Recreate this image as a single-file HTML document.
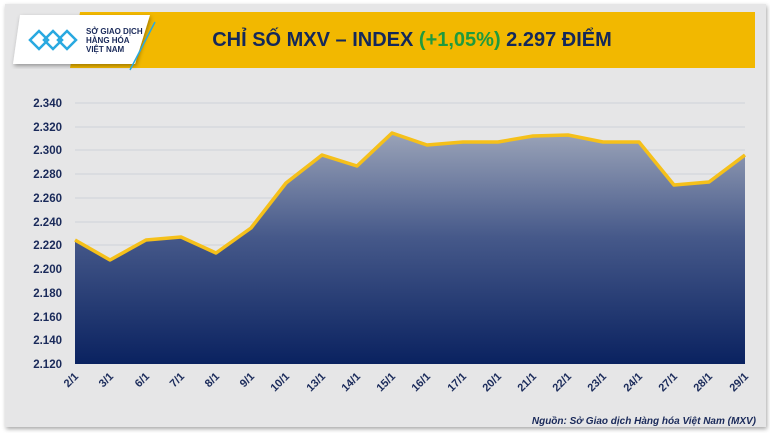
<!DOCTYPE html>
<html><head><meta charset="utf-8"><style>
body{margin:0;width:770px;height:433px;background:#fff;overflow:hidden;font-family:"Liberation Sans",sans-serif}
</style></head><body>
<svg width="770" height="433" xmlns="http://www.w3.org/2000/svg">
<defs>
<linearGradient id="g" x1="0" y1="0" x2="0" y2="1">
<stop offset="0" stop-color="#9aa3b8"/><stop offset="0.45" stop-color="#46598a"/><stop offset="1" stop-color="#0a2260"/></linearGradient>
<filter id="sh"><feDropShadow dx="1" dy="2" stdDeviation="2" flood-opacity="0.35"/></filter>
</defs>
<rect x="5" y="4" width="761" height="423" fill="#e6e6e7" filter="url(#sh)"/>
<polygon points="80,12 755,12 755,68 70,68" fill="#f2b800"/>
<polygon points="20,15 150,15 135,64 13,64" fill="#fff" filter="url(#sh)"/>
<line x1="155" y1="22" x2="130" y2="70" stroke="#29a9e0" stroke-width="1.5"/>
<g fill="none" stroke="#29a9e0" stroke-width="2.5">
<path d="M30,40 l9,-9 l9,9 l-9,9z"/><path d="M44,40 l9,-9 l9,9 l-9,9z"/><path d="M58,40 l9,-9 l9,9 l-9,9z"/>
</g>
<text x="86" y="34" font-size="8" font-weight="bold" fill="#1a2a5a">SỞ GIAO DỊCH</text>
<text x="86" y="43" font-size="8" font-weight="bold" fill="#1a2a5a">HÀNG HÓA</text>
<text x="86" y="52" font-size="8" font-weight="bold" fill="#1a2a5a">VIỆT NAM</text>
<text x="412" y="46" font-size="20" font-weight="bold" text-anchor="middle" fill="#14285a">CHỈ SỐ MXV – INDEX <tspan fill="#1f9a3e">(+1,05%)</tspan> 2.297 ĐIỂM</text>
<g stroke="#cfd3da" stroke-width="1">
<line x1="75" y1="103" x2="745" y2="103"/><line x1="75" y1="127" x2="745" y2="127"/><line x1="75" y1="150" x2="745" y2="150"/><line x1="75" y1="174" x2="745" y2="174"/><line x1="75" y1="198" x2="745" y2="198"/><line x1="75" y1="222" x2="745" y2="222"/><line x1="75" y1="245" x2="745" y2="245"/><line x1="75" y1="269" x2="745" y2="269"/><line x1="75" y1="293" x2="745" y2="293"/><line x1="75" y1="317" x2="745" y2="317"/><line x1="75" y1="340" x2="745" y2="340"/>
</g>
<g font-size="11.5" font-weight="bold" fill="#1a2a5a" text-anchor="end">
<text x="62" y="107">2.340</text><text x="62" y="131">2.320</text><text x="62" y="154">2.300</text><text x="62" y="178">2.280</text><text x="62" y="202">2.260</text><text x="62" y="226">2.240</text><text x="62" y="249">2.220</text><text x="62" y="273">2.200</text><text x="62" y="297">2.180</text><text x="62" y="321">2.160</text><text x="62" y="344">2.140</text><text x="62" y="368">2.120</text>
</g>
<polygon fill="url(#g)" points="75,364 75,240 110,260 146,240 181,237 216,253 251,228 286,183 322,155 357,166 392,133 427,145 463,142 498,142 533,136 568,135 603,142 639,142 674,185 709,182 745,155 745,364"/>
<polyline fill="none" stroke="#f5c01a" stroke-width="3.5" stroke-linejoin="round" points="75,240 110,260 146,240 181,237 216,253 251,228 286,183 322,155 357,166 392,133 427,145 463,142 498,142 533,136 568,135 603,142 639,142 674,185 709,182 745,155"/>
<g font-size="11" font-weight="bold" fill="#1a2a5a" text-anchor="end">
<text transform="translate(79,377) rotate(-45)">2/1</text><text transform="translate(114,377) rotate(-45)">3/1</text><text transform="translate(150,377) rotate(-45)">6/1</text><text transform="translate(185,377) rotate(-45)">7/1</text><text transform="translate(220,377) rotate(-45)">8/1</text><text transform="translate(255,377) rotate(-45)">9/1</text><text transform="translate(290,377) rotate(-45)">10/1</text><text transform="translate(326,377) rotate(-45)">13/1</text><text transform="translate(361,377) rotate(-45)">14/1</text><text transform="translate(396,377) rotate(-45)">15/1</text><text transform="translate(431,377) rotate(-45)">16/1</text><text transform="translate(467,377) rotate(-45)">17/1</text><text transform="translate(502,377) rotate(-45)">20/1</text><text transform="translate(537,377) rotate(-45)">21/1</text><text transform="translate(572,377) rotate(-45)">22/1</text><text transform="translate(607,377) rotate(-45)">23/1</text><text transform="translate(643,377) rotate(-45)">24/1</text><text transform="translate(678,377) rotate(-45)">27/1</text><text transform="translate(713,377) rotate(-45)">28/1</text><text transform="translate(749,377) rotate(-45)">29/1</text>
</g>
<text x="756" y="424" font-size="10" font-style="italic" font-weight="bold" fill="#1a2a5a" text-anchor="end">Nguồn: Sở Giao dịch Hàng hóa Việt Nam (MXV)</text>
</svg>
</body></html>
